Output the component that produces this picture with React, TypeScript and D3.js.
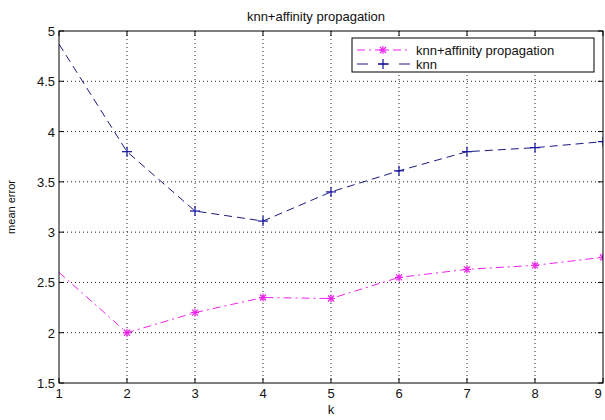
import React from "react";
import * as d3 from "d3";

const kValues = [1, 2, 3, 4, 5, 6, 7, 8, 9];
const knnAP = [2.6, 2.0, 2.2, 2.35, 2.34, 2.55, 2.63, 2.67, 2.75];
const knn = [4.87, 3.8, 3.21, 3.11, 3.4, 3.61, 3.8, 3.84, 3.9];
const yTicks = [1.5, 2, 2.5, 3, 3.5, 4, 4.5, 5];
const xTicks = [1, 2, 3, 4, 5, 6, 7, 8, 9];
const seriesNames = ["knn+affinity propagation", "knn"];

const W = 605, H = 420;
const L = 59, R = 603, T = 31, B = 383;
const font = "'Liberation Sans', Arial, sans-serif";

export default function App() {
  const x = d3.scaleLinear().domain([1, 9]).range([L, R]);
  const y = d3.scaleLinear().domain([1.5, 5]).range([B, T]);
  const line = d3.line<number>().x((_, i) => x(kValues[i])).y((d) => y(d));
  const apColor = "#ee22ee";
  const knnColor = "#1a1a80";
  const star = (cx: number, cy: number, c: string, key: string) => (
    <g key={key} stroke={c} strokeWidth={1.2}>
      <line x1={cx - 4} x2={cx + 4} y1={cy} y2={cy} />
      <line x1={cx} x2={cx} y1={cy - 4} y2={cy + 4} />
      <line x1={cx - 3} x2={cx + 3} y1={cy - 3} y2={cy + 3} />
      <line x1={cx - 3} x2={cx + 3} y1={cy + 3} y2={cy - 3} />
    </g>
  );
  const plus = (cx: number, cy: number, c: string, key: string) => (
    <g key={key} stroke={c} strokeWidth={1.2}>
      <line x1={cx - 5} x2={cx + 5} y1={cy} y2={cy} />
      <line x1={cx} x2={cx} y1={cy - 5} y2={cy + 5} />
    </g>
  );
  return (
    <svg width={W} height={H} style={{ position: "absolute", left: 0, top: 0, background: "#fff" }} fontFamily={font}>
      <defs>
        <clipPath id="plotclip">
          <rect x={L} y={T} width={R - L} height={B - T} />
        </clipPath>
      </defs>
      <rect x={0} y={0} width={W} height={H} fill="#fff" />
      <g stroke="#222" strokeWidth={1} strokeDasharray="1,3">
        {xTicks.slice(1, -1).map((t) => (
          <line key={"gx" + t} x1={x(t)} x2={x(t)} y1={T} y2={B} />
        ))}
        {yTicks.slice(1, -1).map((t) => (
          <line key={"gy" + t} x1={L} x2={R} y1={y(t)} y2={y(t)} />
        ))}
      </g>
      <g clipPath="url(#plotclip)">
        <path d={line(knn) || ""} fill="none" stroke={knnColor} strokeWidth={1} strokeDasharray="8,5" />
        <path d={line(knnAP) || ""} fill="none" stroke={apColor} strokeWidth={1} strokeDasharray="8,4,2,4" />
        {knn.map((v, i) => (i === 0 ? null : plus(x(kValues[i]), y(v), "#1010a0", "k" + i)))}
        {knnAP.map((v, i) => (i === 0 ? null : star(x(kValues[i]), y(v), apColor, "a" + i)))}
      </g>
      <rect x={L} y={T} width={R - L} height={B - T} fill="none" stroke="#000" strokeWidth={1} />
      <g stroke="#000" strokeWidth={1}>
        {xTicks.map((t) => (
          <g key={"tx" + t}>
            <line x1={x(t)} x2={x(t)} y1={B} y2={B - 5} />
            <line x1={x(t)} x2={x(t)} y1={T} y2={T + 5} />
          </g>
        ))}
        {yTicks.map((t) => (
          <g key={"ty" + t}>
            <line x1={L} x2={L + 5} y1={y(t)} y2={y(t)} />
            <line x1={R} x2={R - 5} y1={y(t)} y2={y(t)} />
          </g>
        ))}
      </g>
      <g fontSize={13} fill="#111">
        {xTicks.map((t) => (
          <text key={"lx" + t} x={Math.min(x(t), 598)} y={B + 15} textAnchor="middle">{t}</text>
        ))}
        {yTicks.map((t) => (
          <text key={"ly" + t} x={L - 4} y={y(t) + 5} textAnchor="end">{t}</text>
        ))}
      </g>
      <text x={316} y={21} fontSize={13} textAnchor="middle" fill="#111">knn+affinity propagation</text>
      <text x={331} y={414} fontSize={13} textAnchor="middle" fill="#111">k</text>
      <text transform={`translate(15,${(T + B) / 2}) rotate(-90)`} fontSize={11} textAnchor="middle" fill="#111">mean error</text>
      <g>
        <rect x={352} y={38} width={242} height={34} fill="#fff" stroke="#000" strokeWidth={1} />
        <line x1={357} x2={410} y1={50} y2={50} stroke={apColor} strokeWidth={1} strokeDasharray="8,4,2,4" />
        {star(383, 50, apColor, "ls")}
        <text x={416} y={55} fontSize={13} fill="#111">{seriesNames[0]}</text>
        <line x1={357} x2={410} y1={64} y2={64} stroke={knnColor} strokeWidth={1} strokeDasharray="11,10" />
        {plus(383, 64, "#1010a0", "lp")}
        <text x={416} y={69} fontSize={13} fill="#111">{seriesNames[1]}</text>
      </g>
    </svg>
  );
}
